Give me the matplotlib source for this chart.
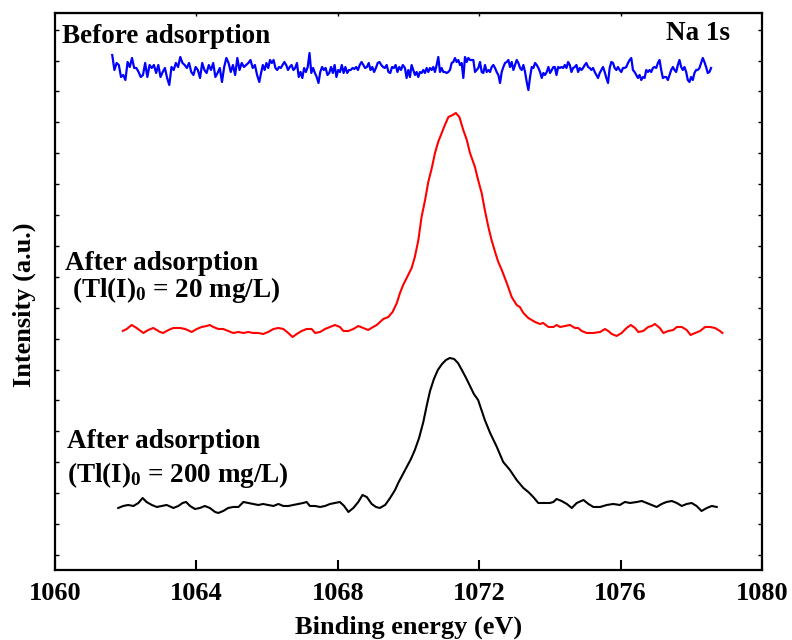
import numpy as np
import matplotlib
matplotlib.use("Agg")
import matplotlib.pyplot as plt

plt.rcParams["font.family"] = ["Liberation Serif", "DejaVu Serif"]
plt.rcParams["font.weight"] = "bold"
plt.rcParams["mathtext.fontset"] = "custom"
plt.rcParams["mathtext.rm"] = "Liberation Serif:bold"
plt.rcParams["mathtext.default"] = "rm"

# Na 1s spectra, binding energy (eV) vs intensity (a.u., curves stacked)
# before adsorption: read in four stretches, evenly sampled inside each
blue_ranges = [(1061.62, 1065.78), (1065.83, 1069.84), (1069.90, 1074.10), (1074.14, 1078.56)]
blue_int_1 = [515, 500, 507, 505, 493, 495, 490, 508, 503, 512, 502, 502, 498, 493, 495, 507, 493,
              505, 502, 505, 497, 505, 493, 498, 502, 492, 485, 503, 500, 507, 503, 513, 507, 505,
              502, 507, 498, 495, 503, 500, 492, 507, 500, 497, 505, 500, 507, 493, 497, 502, 488,
              503, 512, 507, 498, 505, 495, 512, 500, 507, 503, 505, 507, 510, 502, 505, 495, 488]
blue_int_2 = [497, 505, 500, 507, 502, 510, 507, 510, 502, 500, 503, 502, 505, 508, 505, 500, 503,
              505, 500, 502, 507, 493, 498, 492, 502, 498, 503, 517, 497, 502, 497, 493, 487, 498,
              503, 500, 502, 495, 497, 503, 497, 505, 493, 500, 498, 505, 497, 503, 497, 500, 500,
              502, 501, 503, 500, 505, 508, 505, 502, 503, 507, 500, 503, 498, 502, 507, 508, 505,
              503, 502, 505, 498, 497, 503, 502, 505, 498, 503, 500, 505]
blue_int_3 = [502, 492, 500, 493, 505, 500, 495, 498, 493, 498, 497, 500, 497, 502, 498, 502, 500,
              503, 498, 505, 513, 498, 502, 498, 498, 497, 498, 500, 507, 508, 512, 508, 510, 505,
              507, 492, 513, 508, 512, 510, 510, 510, 498, 500, 502, 508, 498, 497, 505, 498, 500,
              498, 503, 505, 502, 498, 495, 487, 498, 503, 507, 508, 510, 503, 508, 500, 505, 510,
              507, 502, 500, 505, 498, 488, 480, 493, 503, 502, 507, 505, 502, 498, 492, 497, 495,
              498, 503, 497, 500, 503]
blue_int_4 = [503, 495, 503, 502, 503, 502, 505, 502, 508, 505, 498, 502, 503, 505, 498, 502, 500,
              502, 505, 507, 503, 502, 500, 502, 498, 495, 492, 497, 500, 503, 498, 492, 487, 502,
              508, 507, 502, 500, 503, 500, 498, 502, 502, 503, 507, 510, 512, 500, 498, 495, 492,
              495, 490, 493, 492, 500, 498, 500, 498, 502, 503, 502, 507, 510, 500, 492, 493, 493,
              490, 495, 500, 503, 500, 498, 505, 510, 503, 500, 503, 498, 490, 488, 493, 490, 497,
              500, 500, 502, 507, 512, 508, 503, 497, 498, 502]

# after adsorption, Tl(I)0 = 20 mg/L
red_energy = [1061.92, 1062.03, 1062.17, 1062.31, 1062.50, 1062.64, 1062.78, 1062.88, 1062.97, 1063.06,
              1063.21, 1063.35, 1063.54, 1063.68, 1063.87, 1064.01, 1064.15, 1064.29, 1064.38, 1064.48,
              1064.62, 1064.76, 1064.90, 1065.04, 1065.19, 1065.33, 1065.47, 1065.61, 1065.75, 1065.89,
              1066.03, 1066.18, 1066.32, 1066.46, 1066.60, 1066.72, 1066.84, 1066.98, 1067.12, 1067.26,
              1067.36, 1067.50, 1067.64, 1067.78, 1067.92, 1068.06, 1068.16, 1068.30, 1068.44, 1068.58,
              1068.72, 1068.86, 1069.00, 1069.10, 1069.29, 1069.43, 1069.55, 1069.67, 1069.76, 1069.85,
              1069.95, 1070.09, 1070.18, 1070.28, 1070.37, 1070.47, 1070.56, 1070.66, 1070.75, 1070.84,
              1070.94, 1071.03, 1071.13, 1071.25, 1071.34, 1071.44, 1071.55, 1071.65, 1071.74, 1071.88,
              1071.97, 1072.07, 1072.16, 1072.26, 1072.35, 1072.45, 1072.54, 1072.64, 1072.78, 1072.92,
              1073.06, 1073.15, 1073.25, 1073.39, 1073.58, 1073.72, 1073.81, 1073.96, 1074.10, 1074.19,
              1074.29, 1074.43, 1074.57, 1074.71, 1074.80, 1074.90, 1075.04, 1075.23, 1075.42, 1075.56,
              1075.65, 1075.75, 1075.89, 1076.03, 1076.17, 1076.29, 1076.41, 1076.50, 1076.64, 1076.78,
              1076.88, 1076.97, 1077.11, 1077.21, 1077.35, 1077.49, 1077.59, 1077.73, 1077.87, 1077.98,
              1078.11, 1078.25, 1078.39, 1078.53, 1078.67, 1078.81, 1078.88]
red_int = [239, 241, 245, 242, 237, 240, 242, 240, 238, 237, 240, 242, 242, 241, 238, 241, 243, 244,
           245, 243, 241, 241, 239, 237, 238, 237, 238, 237, 237, 236, 238, 241, 242, 241, 237, 233,
           236, 239, 241, 241, 237, 238, 241, 243, 245, 243, 239, 239, 241, 244, 242, 240, 243,
           245, 251, 253, 258, 267, 277, 285, 292, 302, 313, 330, 353, 370, 388, 402, 417, 428,
           437, 445, 453, 455, 457, 453, 440, 430, 417, 403, 390, 377, 360, 343, 330, 318, 308,
           300, 287, 273, 265,
           263, 257, 252, 248, 246, 247, 243, 243, 245, 243, 244, 245, 242, 242, 239, 237, 237,
           238, 241, 239, 236, 234, 237, 242, 245, 242, 238, 239, 243, 244, 246, 242, 237, 239,
           240, 243, 243, 240, 235, 237, 239, 243, 243, 242, 239, 237]

# after adsorption, Tl(I)0 = 200 mg/L
black_energy = [1061.79, 1061.93, 1062.07, 1062.22, 1062.36, 1062.48, 1062.59, 1062.74, 1062.88, 1063.02,
                1063.16, 1063.35, 1063.49, 1063.61, 1063.71, 1063.82, 1063.96, 1064.10, 1064.24, 1064.38,
                1064.53, 1064.62, 1064.76, 1064.90, 1065.04, 1065.19, 1065.33, 1065.47, 1065.61, 1065.75,
                1065.89, 1066.03, 1066.18, 1066.32, 1066.46, 1066.60, 1066.74, 1066.88, 1067.02, 1067.12,
                1067.21, 1067.36, 1067.50, 1067.64, 1067.78, 1067.92, 1068.06, 1068.18, 1068.30, 1068.44,
                1068.58, 1068.70, 1068.82, 1068.96, 1069.08, 1069.19, 1069.34, 1069.48, 1069.62, 1069.71,
                1069.83, 1069.95, 1070.07, 1070.18, 1070.30, 1070.42, 1070.52, 1070.61, 1070.72, 1070.83,
                1070.95, 1071.06, 1071.17, 1071.29, 1071.40, 1071.51, 1071.63, 1071.74, 1071.85, 1071.97,
                1072.16, 1072.31, 1072.50, 1072.68, 1072.87, 1073.06, 1073.25, 1073.39, 1073.53, 1073.67,
                1073.81, 1074.00, 1074.10, 1074.19, 1074.33, 1074.48, 1074.62, 1074.76, 1074.95, 1075.09,
                1075.23, 1075.42, 1075.61, 1075.79, 1075.98, 1076.12, 1076.27, 1076.46, 1076.60, 1076.74,
                1076.88, 1077.02, 1077.16, 1077.30, 1077.45, 1077.59, 1077.73, 1077.87, 1078.01, 1078.15,
                1078.29, 1078.44, 1078.58, 1078.72]
black_int = [62, 64, 65, 64, 67, 72, 68, 65, 63, 64, 65, 62, 64, 67, 68, 64, 61, 62, 64, 62,
             58, 57, 59, 62, 63, 63, 68, 67, 66, 65, 66, 65, 64, 66, 64, 64, 65, 66, 67, 68,
             64, 64, 63, 64, 66, 67, 68, 64, 58, 62, 68, 75, 73, 66, 63, 62, 65, 72, 80, 87,
             95, 103, 111, 120, 132, 148, 165, 179, 191, 200, 206, 210, 212, 211, 207, 200, 192,
             184, 176, 170,
             150, 137, 123, 108, 100, 90, 82, 78, 73, 67, 67, 67, 68, 71, 69, 66, 62, 67, 70, 66,
             63, 63, 65, 66, 65, 68, 67, 68, 69, 67, 65, 63, 66, 68, 69, 67, 64, 66, 67, 64,
             59, 62, 64, 63]

blue_int = [blue_int_1, blue_int_2, blue_int_3, blue_int_4]
blue_energy = np.concatenate([np.linspace(a, b, len(v)) for (a, b), v in zip(blue_ranges, blue_int)])
blue_all = np.concatenate(blue_int)

fig = plt.figure(figsize=(7.92, 6.4), dpi=100)
ax = fig.add_axes([0.0694, 0.1094, 0.8927, 0.8703])

ax.plot(blue_energy, blue_all, color="#0000ff", lw=1.6)
ax.plot(red_energy, red_int, color="#ff0000", lw=1.5)
ax.plot(black_energy, black_int, color="black", lw=1.5)

ax.set_xlim(1060, 1080)
ax.set_ylim(0, 557)
ax.set_xticks(np.arange(1060, 1081, 4))
ax.set_yticks(np.arange(15, 557, 30.9))
ax.set_yticklabels([])
ax.tick_params(axis="x", direction="in", length=7, width=1.5, labelsize=19, pad=9, top=False)
ax.tick_params(axis="y", direction="in", length=3, width=1, left=True, right=True)
for lab in ax.get_xticklabels():
    lab.set_fontweight("bold")
for sp in ax.spines.values():
    sp.set_linewidth(1.6)

top = ax.secondary_xaxis("top")
top.set_xticks(np.arange(1064, 1077, 4))
top.tick_params(direction="in", length=2.5, width=1, labeltop=False)

ax.set_xlabel("Binding energy (eV)", fontsize=19, fontweight="bold", labelpad=7)
ax.set_ylabel("Intensity (a.u.)", fontsize=19, fontweight="bold")
ax.yaxis.set_label_coords(-0.027, 0.476)

fs = 19.5
ax.text(1060.2, 527, "Before adsorption", fontsize=fs, fontweight="bold", va="baseline")
ax.text(1079.09, 530, "Na 1s", fontsize=fs, fontweight="bold", ha="right", va="baseline")
ax.text(1060.28, 300, "After adsorption", fontsize=fs, fontweight="bold", va="baseline")
ax.text(1060.48, 273, r"(Tl(I)$_0$ = 20 mg/L)", fontsize=fs, fontweight="bold", va="baseline")
ax.text(1060.34, 122, "After adsorption", fontsize=fs, fontweight="bold", va="baseline")
ax.text(1060.34, 88, r"(Tl(I)$_0$ = 200 mg/L)", fontsize=fs, fontweight="bold", va="baseline")

fig.savefig("out.png", dpi=100)
